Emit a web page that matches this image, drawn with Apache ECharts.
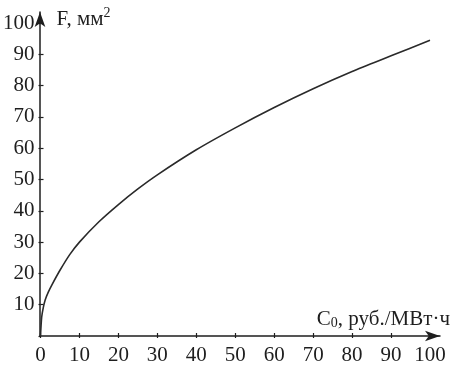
<!DOCTYPE html>
<html>
<head>
<meta charset="utf-8">
<script src="https://cdn.jsdelivr.net/npm/echarts@6/dist/echarts.min.js"></script>
<style>html,body{margin:0;padding:0;background:#fff}#c{width:453px;height:370px}</style>
</head>
<body>
<div id="c"></div>
<script>
const costC0 = [0, 0.3, 0.7, 1.2, 2, 3, 5, 7.5, 10, 15, 20, 25, 30, 40, 50, 60, 70, 80, 90, 100];
const areaF  = [0, 6, 9, 11.5, 14, 16.5, 21, 26, 30, 36.5, 42, 47, 51.5, 59.5, 66.5, 73, 79, 84.5, 89.5, 94.5];
const xTicks = [0, 10, 20, 30, 40, 50, 60, 70, 80, 90, 100];
const yTicks = [10, 20, 30, 40, 50, 60, 70, 80, 90, 100];

const INK = '#1e1e1e';
const FONT = 'Liberation Serif';
const chart = echarts.init(document.getElementById('c'), null, {renderer: 'canvas'});
const pts = costC0.map((c, i) => [c, areaF[i]]);
const base = {min: 0, max: 100, interval: 10, splitLine: {show: false}};
chart.setOption({
  animation: false,
  grid: [
    {left: 40, right: 23, top: 23, bottom: 34},
    {left: 40, right: 13, top: 12, bottom: 34}
  ],
  xAxis: [
    Object.assign({}, base, {
      gridIndex: 0, type: 'value', position: 'bottom',
      axisLine: {show: false},
      axisTick: {show: true, inside: true, length: 3, lineStyle: {color: INK, width: 1.2}},
      axisLabel: {color: INK, fontFamily: FONT, fontSize: 21, margin: 9,
        formatter: v => xTicks.includes(v) ? String(v) : ''},
      name: '{c|C}{s|0}{t|, руб./МВт·ч}',
      nameLocation: 'end', nameGap: 20,
      nameTextStyle: {align: 'right', verticalAlign: 'bottom', padding: [0, 0, 6, 0],
        rich: {
          c: {fontFamily: FONT, fontSize: 21, color: INK},
          s: {fontFamily: FONT, fontSize: 14, color: INK, verticalAlign: 'bottom'},
          t: {fontFamily: FONT, fontSize: 21, color: INK}
        }}
    }),
    Object.assign({}, base, {
      gridIndex: 0, type: 'value', position: 'bottom',
      axisLine: {show: false},
      axisTick: {show: true, inside: false, length: 2, lineStyle: {color: INK, width: 1.2}},
      axisLabel: {show: false}
    }),
    {
      gridIndex: 1, type: 'value', min: 0, max: 100, position: 'bottom',
      splitLine: {show: false}, axisTick: {show: false}, axisLabel: {show: false},
      axisLine: {show: true, symbol: ['none', 'arrow'], symbolSize: [8, 15],
        lineStyle: {color: INK, width: 1.5}}
    }
  ],
  yAxis: [
    Object.assign({}, base, {
      gridIndex: 0, type: 'value', position: 'left',
      axisLine: {show: false},
      axisTick: {show: true, inside: true, length: 3, lineStyle: {color: INK, width: 1.2}},
      axisLabel: {color: INK, fontFamily: FONT, fontSize: 21, margin: 6, showMinLabel: false,
        formatter: v => yTicks.includes(v) ? String(v) : ''},
      name: 'F, мм{p|2}',
      nameLocation: 'end', nameGap: 4,
      nameTextStyle: {align: 'left', verticalAlign: 'middle', padding: [0, 0, 0, 16],
        fontFamily: FONT, fontSize: 21, color: INK,
        rich: {p: {fontFamily: FONT, fontSize: 14, color: INK, padding: [0, 0, 12, 0]}}}
    }),
    Object.assign({}, base, {
      gridIndex: 0, type: 'value', position: 'left',
      axisLine: {show: false},
      axisTick: {show: true, inside: false, length: 2, lineStyle: {color: INK, width: 1.2}},
      axisLabel: {show: false}
    }),
    {
      gridIndex: 1, type: 'value', min: 0, max: 100, position: 'left',
      splitLine: {show: false}, axisTick: {show: false}, axisLabel: {show: false},
      axisLine: {show: true, symbol: ['none', 'arrow'], symbolSize: [8, 15],
        lineStyle: {color: INK, width: 1.5}}
    }
  ],
  series: [{
    type: 'line', xAxisIndex: 0, yAxisIndex: 0,
    data: pts, smooth: 0.25, showSymbol: false,
    lineStyle: {color: '#2a2a2a', width: 1.6}
  }]
});
</script>
</body>
</html>
